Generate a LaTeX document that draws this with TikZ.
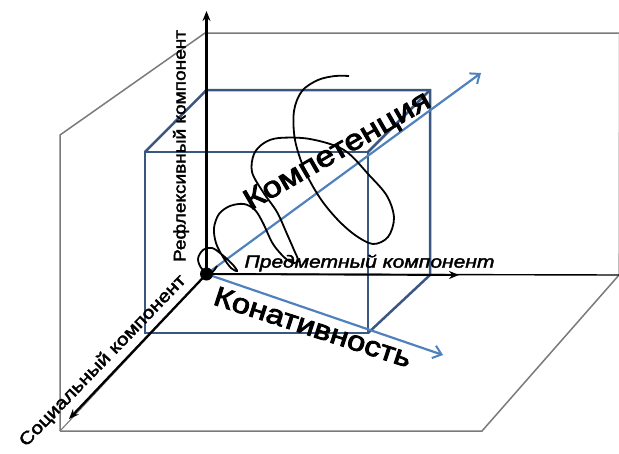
\documentclass[tikz,border=0pt]{standalone}
\usepackage{fontspec}
\setmainfont{Liberation Sans}
\newfontfamily\heavyfont[FakeBold=3]{Liberation Sans}
\newfontfamily\midfont[FakeBold=2]{Liberation Sans}
\usetikzlibrary{arrows.meta}
\definecolor{cubec}{HTML}{3A5782}
\definecolor{arrc}{HTML}{4F81BD}
\definecolor{wallc}{HTML}{7A7A7A}
\tikzset{
  wall/.style={draw=wallc, line width=1.5pt},
  cube/.style={draw=cubec, line width=2.5pt},
  axisline/.style={draw=black, line width=2.3pt, -{Stealth[length=10pt,width=8pt]}},
  bluearr/.style={draw=arrc, line width=2.2pt, -{Straight Barb[length=8pt,width=13pt,line width=2pt]}},
  spring/.style={draw=black, line width=1.8pt},
  lbl/.style={inner sep=0pt, outer sep=0pt}
}
\begin{document}
\begin{tikzpicture}[x=1pt,y=-1pt]
\useasboundingbox (0,0) rectangle (619,453);
% named points
\coordinate (O) at (206.5,274);
\coordinate (W1) at (60,135);
\coordinate (W2) at (205,33);
\coordinate (W3) at (619,33);
\coordinate (W4) at (618.5,275);
\coordinate (F1) at (60,431);
\coordinate (F2) at (482,431);
\coordinate (F3) at (619,275);
\coordinate (Ztop) at (206.5,11);
\coordinate (Xend) at (459,275);
\coordinate (Send) at (69,419);
\coordinate (A1) at (145,152);
\coordinate (A2) at (368,152);
\coordinate (A3) at (368,333);
\coordinate (A4) at (145,333);
\coordinate (B1) at (206.5,90);
\coordinate (B2) at (430,90);
\coordinate (B3) at (430,275);
\coordinate (K1) at (481,73);
\coordinate (K2) at (443,355);
% walls and floor
\draw[wall] (F1) -- (W1) -- (W2) -- (W3);
\draw[wall, draw=wallc!50, line width=0.6pt] (W3) -- (W4);
\draw[wall] (F1) -- (F2) -- (F3);
\draw[wall, line width=1.1pt] (O) -- (F1);
\draw[draw=black, line width=1.4pt] (O) -- (F3);
% cube
\draw[cube] (A1) -- (A2) -- (A3) -- (A4) -- cycle;
\draw[cube] (A1) -- (B1) -- (B2) -- (B3) -- (A3);
\draw[cube] (A2) -- (B2);
% axes
\draw[axisline] (O) -- (Ztop);
\draw[axisline, line width=1.9pt] (O) -- (Xend);
\draw[axisline] (O) -- (Send);
% blue arrows
\draw[bluearr] (O) -- (K1);
\draw[bluearr] (O) -- (K2);
% spring
\draw[spring] plot[smooth, tension=0.55] coordinates {
 (217,266) (211,273) (202,269) (198,259) (203,250) (212,248) (220,253)
 (227,259) (234,266) (237,271) (231,268) (223,257) (216,243) (214,228)
 (219,214) (230,206) (244,204) (255,210) (263,223) (273,244) (285,258)
 (294,263) (298,260) (294,250) (287,234) (277,212) (263,192) (252,172)
 (254,154) (264,143) (279,138) (310,139) (344,150) (369,175) (387,196)
 (394,218) (388,237) (373,244) (355,235) (337,219) (320,198) (305,171)
 (295,140) (294,111) (302,91) (318,80) (335,76) (349,76)};
% labels
\node[lbl, rotate=90] (refl) at (181,146) {\resizebox{232pt}{12.5pt}{\fontsize{16}{16}\midfont Рефлексивный компонент}};
\node[lbl] (pred) at (369.5,263) {\resizebox{250pt}{13pt}{\fontsize{16}{16}\midfont\itshape Предметный компонент}};
\node[lbl, rotate=46] (soc) at (103,361) {\resizebox{231pt}{13pt}{\fontsize{16}{16}\midfont Социальный компонент}};
\node[lbl, rotate=30] (komp) at (338,152) {\resizebox{210pt}{20pt}{\fontsize{28}{28}\heavyfont Компетенция}};
\node[lbl, rotate=-18] (kon) at (313,327) {\resizebox{206pt}{19pt}{\fontsize{28}{28}\heavyfont Конативность}};
% origin dot
\fill[black] (O) circle (6.5pt);
\end{tikzpicture}
\end{document}
